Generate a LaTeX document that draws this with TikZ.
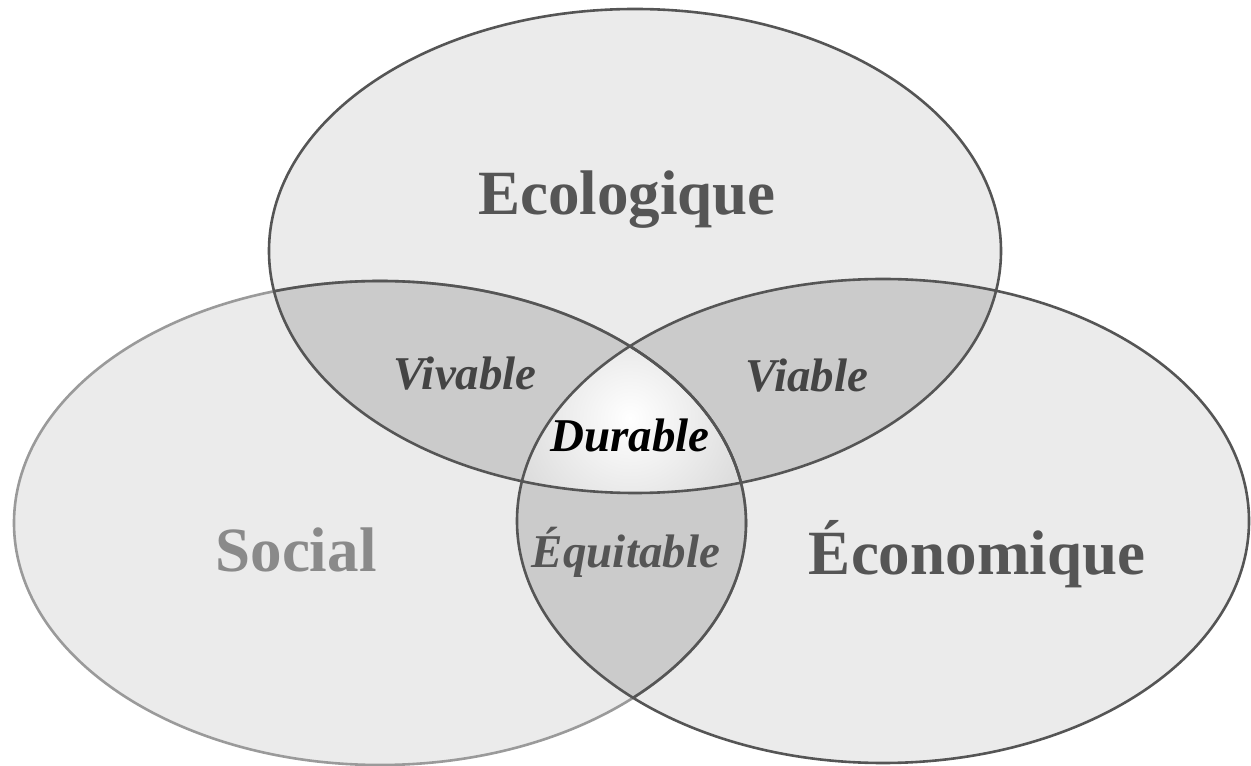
\documentclass[tikz,border=0pt]{standalone}
\usepackage{fontspec}
\setmainfont{Liberation Serif}
\usetikzlibrary{positioning}
\definecolor{setfill}{HTML}{EBEBEB}
\definecolor{pairfill}{HTML}{CBCBCB}
\definecolor{corefill}{HTML}{BDBDBD}
\definecolor{rimdark}{HTML}{555555}
\definecolor{rimlight}{HTML}{9A9A9A}
\definecolor{labeldark}{HTML}{555555}
\definecolor{labellight}{HTML}{8A8A8A}
\definecolor{pairtext}{HTML}{444444}

\begin{document}
\begin{tikzpicture}[x=1pt,y=1pt,
        biglabel/.style={font=\fontsize{63}{63}\selectfont\bfseries, anchor=base, inner sep=0pt},
        smalllabel/.style={font=\fontsize{47}{47}\selectfont\bfseries\itshape, anchor=base, inner sep=0pt},
        rim/.style={line width=2.6pt, draw=rimdark}]
        \useasboundingbox (0,0) rectangle (1251,766);
        \def\rx{366}
        \def\ry{242}
        \coordinate (eco) at (635,515);
        \coordinate (soc) at (380,243);
        \coordinate (eca) at (883,245);

        % the three sets
        \fill[setfill] (eco) ellipse [x radius=\rx, y radius=\ry];
        \fill[setfill] (soc) ellipse [x radius=\rx, y radius=\ry];
        \fill[setfill] (eca) ellipse [x radius=\rx, y radius=\ry];

        % pairwise overlaps
        \begin{scope}
            \clip (eco) ellipse [x radius=\rx, y radius=\ry];
            \fill[pairfill] (soc) ellipse [x radius=\rx, y radius=\ry];
            \fill[pairfill] (eca) ellipse [x radius=\rx, y radius=\ry];
        \end{scope}
        \begin{scope}
            \clip (soc) ellipse [x radius=\rx, y radius=\ry];
            \fill[pairfill] (eca) ellipse [x radius=\rx, y radius=\ry];
        \end{scope}

        % centre
        \begin{scope}
            \clip (eco) ellipse [x radius=\rx, y radius=\ry];
            \clip (soc) ellipse [x radius=\rx, y radius=\ry];
            \clip (eca) ellipse [x radius=\rx, y radius=\ry];
            \shade[inner color=white, outer color=corefill] (630,348) circle (230);
        \end{scope}

        % outlines
        \draw[rim, draw=rimlight] (soc) ellipse [x radius=\rx, y radius=\ry];
        \begin{scope}
            \clip (eco) ellipse [x radius=\rx, y radius=\ry];
            \draw[rim] (soc) ellipse [x radius=\rx, y radius=\ry];
        \end{scope}
        \begin{scope}
            \clip (eca) ellipse [x radius=\rx, y radius=\ry];
            \draw[rim] (soc) ellipse [x radius=\rx, y radius=\ry];
        \end{scope}
        \draw[rim] (eco) ellipse [x radius=\rx, y radius=\ry];
        \draw[rim] (eca) ellipse [x radius=\rx, y radius=\ry];

        \node[biglabel, text=labeldark] (ecolo) at (627,551) {Ecologique};
        \node[biglabel, text=labellight] (social) at (296,194) {Social};
        \node[biglabel, text=labeldark] (econo) at (977,191) {Économique};

        \node[smalllabel, text=pairtext] (vivable) at (465,376) {Vivable};
        \node[smalllabel, text=pairtext] (viable) at (807,374) {Viable};
        \node[smalllabel, text=labeldark] (equitable) at (626,198) {Équitable};
        \node[smalllabel, text=black] (durable) at (630,314) {Durable};
\end{tikzpicture}
\end{document}
